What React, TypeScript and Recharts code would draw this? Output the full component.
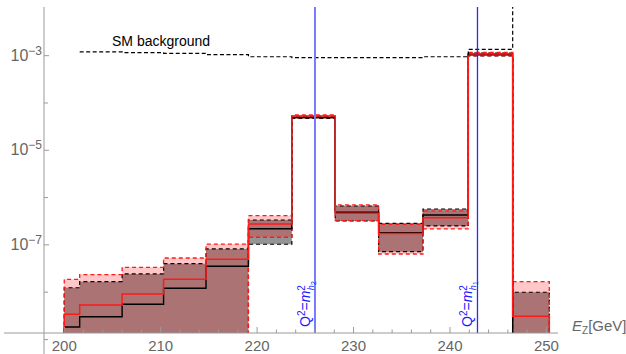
import React from "react";
import {Area, ComposedChart, Line, ReferenceLine, XAxis, YAxis} from "recharts";

// bin edges in GeV and per-bin values
const edges = [200, 201.6, 206, 210.3, 214.7, 219.1, 223.6, 228.1, 232.6, 237.2, 241.9, 246.5, 250.3];
const redUpper = [1.87e-8, 2.35e-8, 3.36e-8, 5.28e-8, 1.04e-7, 4.14e-7, 5.57e-5, 6.98e-7, 2.73e-7, 5.21e-7, 1.17e-3, 1.67e-8];
const redCentral = [3.41e-9, 5.36e-9, 9.16e-9, 1.87e-8, 4.96e-8, 2.77e-7, 5.31e-5, 4.66e-7, 1.73e-7, 3.76e-7, 1.09e-3, 3.1e-9];
const redLower = [1e-9, 1e-9, 1e-9, 1e-9, 1e-9, 1.45e-7, 4.93e-5, 3.25e-7, 6.42e-8, 2.17e-7, 1.01e-3, 1e-9];
const blackUpper = [1.24e-8, 1.67e-8, 2.43e-8, 4.01e-8, 8.19e-8, 3.36e-7, 5.19e-5, 6.64e-7, 2.86e-7, 5.74e-7, 1.14e-3, 9.95e-9];
const blackCentral = [1.84e-9, 3.03e-9, 5.55e-9, 1.21e-8, 3.53e-8, 2.2e-7, 4.93e-5, 4.89e-7, 1.81e-7, 4.29e-7, 1.06e-3, 1e-9];
const blackLower = [1e-9, 1e-9, 1e-9, 1e-9, 1e-9, 1.03e-7, 4.7e-5, 3.2e-7, 7.18e-8, 2.51e-7, 9.86e-4, 1e-9];
const smBackground = [null, 1.2e-3, 1.16e-3, 1.12e-3, 1.05e-3, 9.5e-4, 9.1e-4, 9.1e-4, 9.1e-4, 9.5e-4, 1.36e-3, 5e-2];
const FLOOR = 1e-9; // below the axis

const massLines = [
   {x: 226.0, sub: "2", color: "#7a7aff", width: 2},
   {x: 242.85, sub: "1", color: "#2a2aff", width: 1.3},
];

const xTicks = [200, 202, 204, 206, 208, 210, 212, 214, 216, 218, 220, 222, 224, 226, 228, 230, 232, 234, 236, 238, 240, 242, 244, 246, 248, 250];
const xMajor = [200, 210, 220, 230, 240, 250];
const yTicks = [1e-8, 1e-7, 1e-6, 1e-5, 1e-4, 1e-3];
const yMajorExp = [-7, -5, -3];

const font = "'Liberation Sans', Arial, sans-serif";
const axisGray = "#9a9a9a";
const labelGray = "#666";

const bin = (i: number) => ({
   rU: redUpper[i], rC: redCentral[i], rL: redLower[i],
   bU: blackUpper[i], bC: blackCentral[i], bL: blackLower[i],
});
const base = {rU: FLOOR, rC: FLOOR, rL: FLOOR, bU: FLOOR, bC: FLOOR, bL: FLOOR};
const last = redUpper.length - 1;
const rows = [
   {x: edges[0], ...base, sm: null},
   ...redUpper.map((_, i) => ({x: edges[i], ...bin(i), sm: smBackground[i]})),
   {x: edges[last + 1], ...bin(last), sm: smBackground[last]},
   {x: edges[last + 1], ...base, sm: null},
];

const XTick = (props: any) => {
   const {x, y, payload} = props;
   const major = xMajor.includes(payload.value);
   return (
      <g>
         <line x1={x} x2={x} y1={y} y2={y - (major ? 6 : 3.5)} stroke={axisGray}/>
         {major && (
            <text x={x} y={y + 18} textAnchor="middle" fill={labelGray} fontSize={15} fontFamily={font}>
               {payload.value}
            </text>
         )}
      </g>
   );
};

const YTick = (props: any) => {
   const {x, y, payload} = props;
   const exp = Math.round(Math.log10(payload.value));
   const major = yMajorExp.includes(exp);
   return (
      <g>
         <line x1={x} x2={x + (major ? 5 : 4)} y1={y} y2={y} stroke={axisGray}/>
         {major && (
            <text x={x - 2} y={y + 5} textAnchor="end" fill={labelGray} fontSize={16} fontFamily={font}>
               <tspan>10</tspan>
               <tspan dy={-6} fontSize={12}>{"\u2212" + Math.abs(exp)}</tspan>
            </text>
         )}
      </g>
   );
};

const MassLabel = ({viewBox, sub, color}: any) => {
   const x = viewBox.x - 5;
   const y = viewBox.y + viewBox.height - 6;
   return (
      <text x={x} y={y} transform={`rotate(-90 ${x} ${y})`} fill={color} fontSize={14} fontFamily={font}>
         <tspan>Q</tspan>
         <tspan dy={-5} fontSize={10}>2</tspan>
         <tspan dy={5}>=</tspan>
         <tspan fontStyle="italic">m</tspan>
         <tspan dy={-5} fontSize={10}>2</tspan>
         <tspan dx={-5} dy={9} fontSize={9} fontStyle="italic">h</tspan>
         <tspan dy={2} fontSize={7}>{sub}</tspan>
      </text>
   );
};

const App: React.FC = () => {
   return (
      <div style={{position: "absolute", left: 0, top: 0, width: 626, height: 354, background: "#fff"}}>
         <ComposedChart width={626} height={354} data={rows} margin={{top: 7, right: 68, left: 0, bottom: 0}}>
            <XAxis dataKey="x" type="number" domain={[197.9, 251.2]} ticks={xTicks} tick={XTick}
                   tickLine={false} tickSize={0} tickMargin={0} height={21} interval={0}
                   axisLine={{stroke: axisGray}} allowDataOverflow/>
            <YAxis type="number" scale="log" domain={[1.37e-9, 1.07e-2]} ticks={yTicks} tick={YTick}
                   tickLine={false} tickSize={0} tickMargin={0} width={44} interval={0}
                   axisLine={{stroke: axisGray}} allowDataOverflow/>
            <Area type="stepAfter" dataKey={(d: any) => [d.bL, d.bU]} fill="#000" fillOpacity={0.42}
                  stroke="none" isAnimationActive={false}/>
            <Area type="stepAfter" dataKey={(d: any) => [d.rL, d.rU]} fill="#ff0000" fillOpacity={0.22}
                  stroke="none" isAnimationActive={false}/>
            <Line type="stepAfter" dataKey="bU" stroke="#000" strokeWidth={1.2} strokeDasharray="4 3"
                  dot={false} activeDot={false} isAnimationActive={false}/>
            <Line type="stepAfter" dataKey="bL" stroke="#000" strokeWidth={1.2} strokeDasharray="4 3"
                  dot={false} activeDot={false} isAnimationActive={false}/>
            <Line type="stepAfter" dataKey="rU" stroke="#ff1a1a" strokeWidth={1.3} strokeDasharray="4 3"
                  dot={false} activeDot={false} isAnimationActive={false}/>
            <Line type="stepAfter" dataKey="rL" stroke="#ff1a1a" strokeWidth={1.3} strokeDasharray="4 3"
                  dot={false} activeDot={false} isAnimationActive={false}/>
            <Line type="stepAfter" dataKey="bC" stroke="#000" strokeWidth={1.4}
                  dot={false} activeDot={false} isAnimationActive={false}/>
            <Line type="stepAfter" dataKey="rC" stroke="#ff1a1a" strokeWidth={1.5}
                  dot={false} activeDot={false} isAnimationActive={false}/>
            <Line type="stepAfter" dataKey="sm" stroke="#000" strokeWidth={1.2} strokeDasharray="4 2.5"
                  dot={false} activeDot={false} isAnimationActive={false} connectNulls={false}/>
            {massLines.map((m) => (
               <ReferenceLine key={m.sub} x={m.x} stroke={m.color} strokeWidth={m.width}
                              label={(p: any) => <MassLabel viewBox={p.viewBox} sub={m.sub} color="#1a1aff"/>}/>
            ))}
         </ComposedChart>
         <svg width={626} height={354} style={{position: "absolute", left: 0, top: 0, pointerEvents: "none"}}>
            <line x1={4} x2={44} y1={333} y2={333} stroke={axisGray}/>
            <line x1={44} x2={44} y1={333} y2={354} stroke={axisGray}/>
            <line x1={44} x2={48} y1={339.6} y2={339.6} stroke={axisGray}/>
            <text x={112} y={46} fontSize={14} fontFamily={font} fill="#000">SM background</text>
            <text x={572} y={331} fontSize={15} fontFamily={font} fill={labelGray}>
               <tspan fontStyle="italic">E</tspan>
               <tspan dy={3} fontSize={10}>Z</tspan>
               <tspan dy={-3}>[GeV]</tspan>
            </text>
         </svg>
      </div>
   );
};

export default App;
